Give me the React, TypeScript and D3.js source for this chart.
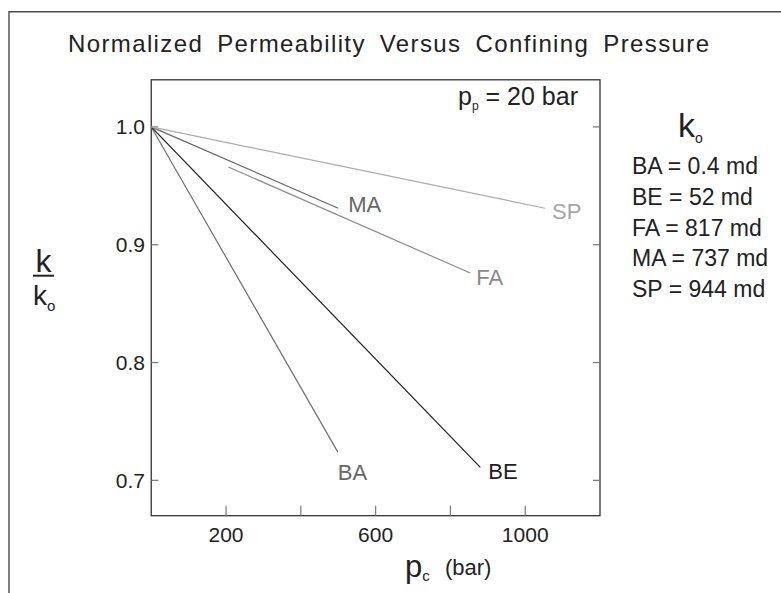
import React from "react";
import * as d3 from "d3";

// Sample names, their reference permeability k0 (md), and each fitted trend
const samples = ["BA", "BE", "FA", "MA", "SP"];
const k0Values = ["0.4", "52", "817", "737", "944"];
const pressureStart = [0, 0, 206, 0, 0];
const ratioStart = [1.0, 1.0, 0.966, 1.0, 1.0];
const pressureEnd = [499, 880, 853, 500, 1053];
const ratioEnd = [0.724, 0.711, 0.876, 0.931, 0.931];

const xTicks = [200, 400, 600, 800, 1000];
const xTickLabels = [200, 600, 1000];
const yTicks = [0.7, 0.8, 0.9, 1.0];

const W = 781;
const H = 593;
const FONT = "'Liberation Sans', Arial, Helvetica, sans-serif";

const plot = { left: 151.25, right: 600, top: 79.8, bottom: 515.7 };

const lineColor: Record<string, string> = {
  BA: "#6e6e6e",
  BE: "#1c1c1c",
  FA: "#8c8c8c",
  MA: "#686868",
  SP: "#ababab",
};
const labelColor: Record<string, string> = {
  BA: "#676767",
  BE: "#222222",
  FA: "#8a8a8a",
  MA: "#666666",
  SP: "#a6a6a6",
};
// label placement relative to the end of each trend line (px)
const labelOffset: Record<string, [number, number]> = {
  BA: [0, 28],
  BE: [8, 12],
  FA: [6, 12],
  MA: [10, 4],
  SP: [7, 11],
};

export default function App() {
  const x = d3.scaleLinear().domain([0, 1200]).range([plot.left, plot.right]);
  const y = d3.scaleLinear().domain([0.67, 1.04]).range([plot.bottom, plot.top]);
  const line = d3
    .line<[number, number]>()
    .x((d) => x(d[0]))
    .y((d) => y(d[1]));

  return (
    <svg
      width={W}
      height={H}
      viewBox={`0 0 ${W} ${H}`}
      style={{ position: "absolute", left: 0, top: 0, background: "#fff" }}
      fontFamily={FONT}
    >
      {/* outer frame */}
      <path d={`M9,593 L9,11.7 L781,11.7`} fill="none" stroke="#4a4a4a" strokeWidth={1.4} />

      <text
        x={68}
        y={52}
        fontSize={24}
        fill="#222"
        textLength={641}
        lengthAdjust="spacing"
        style={{ wordSpacing: "6px" }}
      >
        Normalized Permeability Versus Confining Pressure
      </text>

      {/* plot frame */}
      <rect
        x={plot.left}
        y={plot.top}
        width={plot.right - plot.left}
        height={plot.bottom - plot.top}
        fill="none"
        stroke="#333"
        strokeWidth={1.3}
      />

      {/* ticks */}
      {xTicks.map((t) => (
        <line key={"xt" + t} x1={x(t)} x2={x(t)} y1={plot.bottom} y2={plot.bottom - 10} stroke="#777" strokeWidth={1.2} />
      ))}
      {yTicks.map((t) => (
        <g key={"yt" + t}>
          <line x1={plot.left} x2={plot.left + 7} y1={y(t)} y2={y(t)} stroke="#777" strokeWidth={1.2} />
          <line x1={plot.right} x2={plot.right - 7} y1={y(t)} y2={y(t)} stroke="#777" strokeWidth={1.2} />
        </g>
      ))}
      {xTickLabels.map((t) => (
        <text key={"xl" + t} x={x(t)} y={541.5} fontSize={21} textAnchor="middle" fill="#222">
          {t}
        </text>
      ))}
      {yTicks.map((t) => (
        <text key={"yl" + t} x={145} y={y(t)} dy="0.36em" fontSize={21} textAnchor="end" fill="#222">
          {d3.format(".1f")(t)}
        </text>
      ))}

      {/* trend lines */}
      {samples.map((s, i) => (
        <path
          key={"ln" + s}
          d={line([
            [pressureStart[i], ratioStart[i]],
            [pressureEnd[i], ratioEnd[i]],
          ]) as string}
          fill="none"
          stroke={lineColor[s]}
          strokeWidth={1.2}
        />
      ))}
      {samples.map((s, i) => (
        <text
          key={"lb" + s}
          x={x(pressureEnd[i]) + labelOffset[s][0]}
          y={y(ratioEnd[i]) + labelOffset[s][1]}
          fontSize={22}
          fill={labelColor[s]}
        >
          {s}
        </text>
      ))}

      {/* pore pressure note */}
      <text x={578} y={105} fontSize={25} textAnchor="end" fill="#222">
        p<tspan fontSize={12} dy={5}>p</tspan>
        <tspan dy={-5}> = 20 bar</tspan>
      </text>

      {/* y axis label k / k0 */}
      <text x={43.5} y={272} fontSize={32} textAnchor="middle" fill="#222">k</text>
      <line x1={33} x2={54} y1={275.7} y2={275.7} stroke="#222" strokeWidth={2} />
      <text x={33} y={305} fontSize={28} fill="#222">
        k<tspan fontSize={15} dy={6}>o</tspan>
      </text>

      {/* x axis label */}
      <text x={405} y={577} fontSize={31} fill="#222">
        p<tspan fontSize={15} dy={4}>c</tspan>
      </text>
      <text x={445} y={575} fontSize={22} fill="#222">(bar)</text>

      {/* k0 legend */}
      <text x={678} y={137} fontSize={34} fill="#222">
        k<tspan fontSize={14} dy={6}>o</tspan>
      </text>
      {samples.map((s, i) => (
        <text key={"lg" + s} x={632} y={174 + i * 30.8} fontSize={23} fill="#222">
          {`${s} = ${k0Values[i]} md`}
        </text>
      ))}
    </svg>
  );
}
